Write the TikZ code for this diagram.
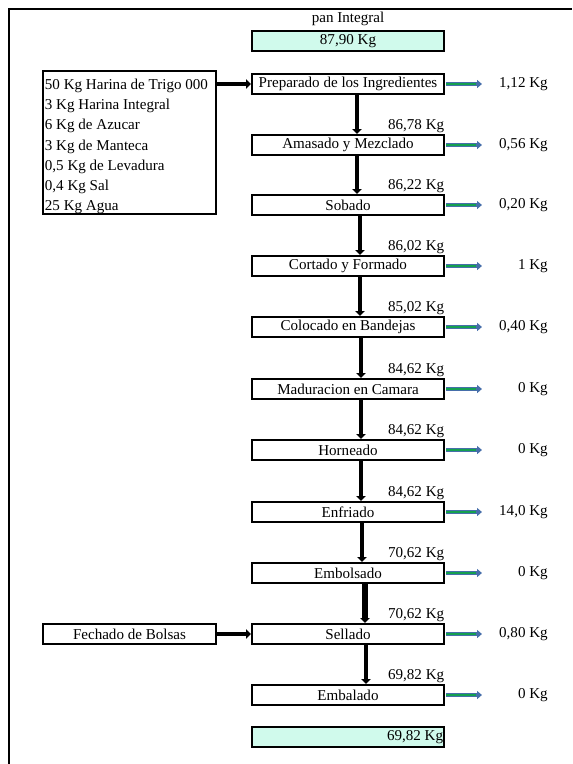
\documentclass[tikz,border=0pt]{standalone}
\usepackage{fontspec}
\setmainfont{Liberation Serif}
\usetikzlibrary{arrows.meta}
\definecolor{mint}{RGB}{208,250,236}
\definecolor{arrblue}{RGB}{70,110,170}
\definecolor{arrgreen}{RGB}{20,160,80}
\tikzset{
  every node/.style={font=\fontsize{11.3}{13.6}\selectfont},
  stepbox/.style={draw, line width=1.5pt, minimum width=144pt, minimum height=15pt, inner sep=0pt},
  massbox/.style={stepbox, fill=mint},
  masslbl/.style={anchor=south east, inner sep=0.4pt},
  losslbl/.style={anchor=east, inner sep=0pt},
  downarr/.style={line width=3.5pt, -{Triangle[length=3.75pt,width=7pt]}},
  feedarr/.style={line width=3.5pt, -{Triangle[length=3.75pt,width=7pt]}},
  lossblue/.style={draw=arrblue, line width=3.6pt, -{Triangle[length=3.75pt,width=6pt]}},
  lossgreen/.style={draw=arrgreen, line width=1.6pt},
}
\begin{document}
\begin{tikzpicture}[x=0.75pt,y=-0.75pt]
\useasboundingbox (0,0) rectangle (572,764);
% frame
\draw[line width=1.5pt] (9,764) -- (9,9) -- (572,9);
% top
\node (title) at (348,19) {pan Integral};
\node[massbox] (start) at (348,41) {87,90 Kg};
% ingredients
\node[draw, line width=1.5pt, minimum width=129.75pt, minimum height=107.25pt, inner sep=0pt] (ing) at (129.5,142.5) {};
\node[anchor=west, align=left, inner xsep=2pt, inner ysep=0pt, font=\fontsize{11.3}{15.15}\selectfont] (ingtxt) at ([yshift=-3pt]ing.west)
 {50 Kg Harina de Trigo 000\\3 Kg Harina Integral\\6 Kg de Azucar\\3 Kg de Manteca\\0,5 Kg de Levadura\\0,4 Kg Sal\\25 Kg Agua};
\node[draw, line width=1.5pt, minimum width=129.75pt, minimum height=15pt, inner sep=0pt] (fech) at (129.5,634) {Fechado de Bolsas};
% steps
\node[stepbox] (p1) at (348,84) {Preparado de los Ingredientes};
\node[stepbox] (p2) at (348,145) {Amasado y Mezclado};
\node[stepbox] (p3) at (348,205) {Sobado};
\node[stepbox] (p4) at (348,266) {Cortado y Formado};
\node[stepbox] (p5) at (348,327) {Colocado en Bandejas};
\node[stepbox] (p6) at (348,389) {Maduracion en Camara};
\node[stepbox] (p7) at (348,450) {Horneado};
\node[stepbox] (p8) at (348,512) {Enfriado};
\node[stepbox] (p9) at (348,573) {Embolsado};
\node[stepbox] (p10) at (348,634) {Sellado};
\node[stepbox] (p11) at (348,695) {Embalado};
\node[massbox] (final) at (348,737) {};
\node[anchor=east, inner sep=1.2pt] (finallbl) at (final.east) {69,82 Kg};
% mass labels
\node[masslbl] (m2) at (p2.north east) {86,78 Kg};
\node[masslbl] (m3) at (p3.north east) {86,22 Kg};
\node[masslbl] (m4) at (p4.north east) {86,02 Kg};
\node[masslbl] (m5) at (p5.north east) {85,02 Kg};
\node[masslbl] (m6) at (p6.north east) {84,62 Kg};
\node[masslbl] (m7) at (p7.north east) {84,62 Kg};
\node[masslbl] (m8) at (p8.north east) {84,62 Kg};
\node[masslbl] (m9) at (p9.north east) {70,62 Kg};
\node[masslbl] (m10) at (p10.north east) {70,62 Kg};
\node[masslbl] (m11) at (p11.north east) {69,82 Kg};
% loss labels
\node[losslbl] (l1) at (548,84) {1,12 Kg};
\node[losslbl] (l2) at (548,145) {0,56 Kg};
\node[losslbl] (l3) at (548,205) {0,20 Kg};
\node[losslbl] (l4) at (548,266) {1 Kg};
\node[losslbl] (l5) at (548,327) {0,40 Kg};
\node[losslbl] (l6) at (548,389) {0 Kg};
\node[losslbl] (l7) at (548,450) {0 Kg};
\node[losslbl] (l8) at (548,512) {14,0 Kg};
\node[losslbl] (l9) at (548,573) {0 Kg};
\node[losslbl] (l10) at (548,634) {0,80 Kg};
\node[losslbl] (l11) at (548,695) {0 Kg};
% down arrows
\draw[downarr] ([xshift=6.75pt]p1.south) -- ([xshift=6.75pt]p2.north);
\draw[downarr] ([xshift=6.75pt]p2.south) -- ([xshift=6.75pt]p3.north);
\draw[downarr] ([xshift=9pt]p3.south) -- ([xshift=9pt]p4.north);
\draw[downarr] ([xshift=9pt]p4.south) -- ([xshift=9pt]p5.north);
\draw[downarr] ([xshift=9.75pt]p5.south) -- ([xshift=9.75pt]p6.north);
\draw[downarr] ([xshift=9.75pt]p6.south) -- ([xshift=9.75pt]p7.north);
\draw[downarr] ([xshift=9.75pt]p7.south) -- ([xshift=9.75pt]p8.north);
\draw[downarr] ([xshift=10.5pt]p8.south) -- ([xshift=10.5pt]p9.north);
\draw[downarr, line width=4.8pt] ([xshift=12.75pt]p9.south) -- ([xshift=12.75pt]p10.north);
\draw[downarr] ([xshift=13.5pt]p10.south) -- ([xshift=13.5pt]p11.north);
% feed arrows
\draw[feedarr] (ing.east |- p1.west) -- (p1.west);
\draw[feedarr] (fech.east) -- (p10.west);
% loss arrows
\foreach \p in {p1,p2,p3,p4,p5,p6,p7,p8,p9,p10,p11}{
  \draw[lossblue] ([xshift=0.75pt]\p.east) -- ++(36,0);
  \draw[lossgreen] ([xshift=0.75pt]\p.east) -- ++(30,0);
}
\end{tikzpicture}
\end{document}
